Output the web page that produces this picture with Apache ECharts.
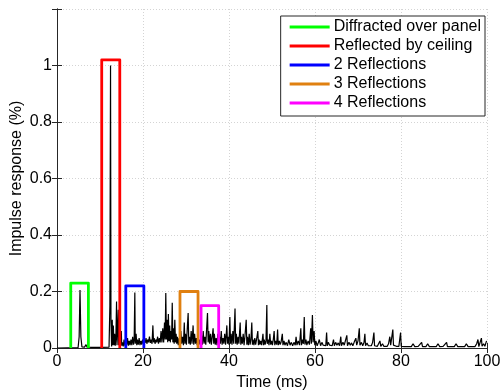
<!DOCTYPE html>
<html>
<head>
<meta charset="utf-8">
<script src="https://cdn.jsdelivr.net/npm/echarts@6/dist/echarts.min.js"></script>
<style>
  html, body { margin: 0; padding: 0; background: #fff; }
  #chart { width: 503px; height: 390px; }
</style>
</head>
<body>
<div id="chart"></div>
<script>
// measured impulse response, [time (ms), response (%)]
const impulse = [
  [0,0],[4.9,0.001],[5.15,0.04],[5.35,0.205],[5.55,0.04],[5.8,0.004],[6.4,0.003],[6.75,0.012],[7.0,0.003],[8,0.002],[10,0.002],[12.1,0.003],
  [12.3,0.15],[12.45,1.0],[12.55,0.1],[12.7,0.005],[12.85,0.1],[12.95,0.01],[13.1,0.08],[13.25,0.01],[13.4,0.05],[13.55,0.008],[13.7,0.04],[13.85,0.165],[13.95,0.01],[14.1,0.06],[14.25,0.135],[14.35,0.01],[14.5,0.04],[14.65,0.006],[14.8,0.025],[14.95,0.06],[15.05,0.008],
  [15.2,0.02],[15.4,0.006],[15.6,0.03],[15.8,0.008],[16.0,0.02],[16.2,0.01],[16.4,0.035],[16.6,0.008],[16.8,0.025],[17.0,0.01],[17.2,0.03],[17.4,0.01],[17.6,0.04],[17.8,0.012],[17.95,0.03],[18.1,0.196],[18.2,0.015],[18.4,0.05],[18.55,0.01],[18.7,0.03],[18.9,0.012],[19.1,0.035],[19.3,0.01],[19.5,0.025],[19.7,0.012],[19.9,0.03],
  [20.1,0.015],[20.3,0.03],[20.5,0.018],[20.7,0.035],[20.9,0.015],[21.1,0.03],[21.3,0.02],[21.5,0.04],[21.7,0.018],[21.9,0.03],[22.1,0.015],[22.3,0.08],[22.45,0.02],[22.6,0.035],[22.8,0.015],[23.0,0.03],[23.2,0.02],[23.4,0.04],[23.6,0.015],[23.8,0.035],[24.0,0.02],[24.2,0.06],[24.4,0.02],[24.6,0.07],[24.8,0.02],
  [25.0,0.09],[25.15,0.03],[25.3,0.195],[25.45,0.03],[25.6,0.1],[25.75,0.02],[25.9,0.12],[26.05,0.025],[26.2,0.08],[26.35,0.02],[26.5,0.06],[26.65,0.03],[26.8,0.16],[26.95,0.02],[27.1,0.07],[27.25,0.015],[27.4,0.1],[27.55,0.02],[27.7,0.05],[27.85,0.015],[28.0,0.04],[28.2,0.01],[28.4,0.035],[28.6,0.012],[28.8,0.06],[29.0,0.015],[29.2,0.04],[29.4,0.01],[29.6,0.09],[29.75,0.015],[29.9,0.05],
  [30.1,0.012],[30.3,0.07],[30.5,0.124],[30.65,0.015],[30.8,0.04],[31.0,0.012],[31.2,0.06],[31.4,0.015],[31.65,0.08],[31.8,0.012],[32.0,0.05],[32.2,0.015],[32.4,0.035],[32.6,0.01],[32.8,0.04],[33.0,0.012],[33.2,0.03],[33.4,0.01],[33.6,0.045],[33.8,0.012],[34.0,0.06],[34.2,0.015],[34.4,0.04],[34.6,0.012],[34.8,0.07],
  [35.0,0.124],[35.15,0.02],[35.3,0.06],[35.5,0.015],[35.7,0.05],[35.9,0.012],[36.1,0.04],[36.3,0.07],[36.45,0.015],[36.6,0.05],[36.8,0.012],[37.0,0.035],[37.2,0.01],[37.4,0.05],[37.6,0.012],[37.8,0.04],[38.0,0.015],[38.2,0.06],[38.4,0.012],[38.6,0.035],[38.8,0.015],[39.0,0.05],[39.2,0.012],[39.5,0.08],[39.65,0.015],[39.8,0.04],
  [40.0,0.012],[40.2,0.11],[40.35,0.015],[40.5,0.05],[40.7,0.012],[40.9,0.06],[41.1,0.015],[41.4,0.14],[41.55,0.015],[41.7,0.05],[41.9,0.012],[42.1,0.04],[42.3,0.015],[42.6,0.09],[42.75,0.012],[42.9,0.04],[43.1,0.015],[43.3,0.05],[43.5,0.01],[43.7,0.04],[44.0,0.1],[44.15,0.012],[44.3,0.04],[44.5,0.01],[44.7,0.05],[44.9,0.012],
  [45.1,0.03],[45.3,0.09],[45.45,0.012],[45.6,0.03],[45.8,0.01],[46.0,0.035],[46.2,0.012],[46.4,0.03],[46.7,0.06],[46.85,0.01],[47.0,0.03],[47.2,0.012],[47.4,0.025],[47.6,0.01],[47.9,0.05],[48.05,0.01],[48.2,0.03],[48.4,0.012],[48.6,0.025],[48.8,0.152],[48.9,0.015],[49.1,0.03],[49.3,0.01],[49.5,0.05],[49.7,0.012],[49.9,0.025],
  [50.1,0.01],[50.3,0.03],[50.5,0.06],[50.65,0.01],[50.9,0.025],[51.1,0.012],[51.3,0.065],[51.45,0.01],[51.7,0.025],[51.9,0.012],[52.1,0.02],[52.4,0.05],[52.55,0.01],[52.8,0.025],[53.0,0.01],[53.3,0.02],[53.6,0.008],[53.9,0.03],[54.2,0.01],[54.5,0.02],[54.8,0.008],
  [55.1,0.02],[55.4,0.01],[55.6,0.04],[55.8,0.01],[56.1,0.025],[56.4,0.01],[56.7,0.07],[56.85,0.01],[57.1,0.03],[57.3,0.015],[57.5,0.11],[57.65,0.012],[57.9,0.03],[58.1,0.01],[58.4,0.025],[58.7,0.012],[59.0,0.07],[59.15,0.015],[59.4,0.117],[59.55,0.02],[59.8,0.06],[59.95,0.01],
  [60.2,0.025],[60.5,0.008],[60.8,0.02],[61.0,0.03],[61.3,0.008],[61.6,0.02],[61.9,0.01],[62.2,0.015],[62.5,0.008],[62.7,0.055],[62.85,0.008],[63.1,0.02],[63.4,0.01],[63.7,0.015],[64.0,0.008],[64.3,0.03],[64.5,0.008],[64.8,0.02],
  [65.1,0.01],[65.4,0.018],[65.7,0.008],[66.0,0.04],[66.15,0.008],[66.5,0.02],[66.8,0.01],[67.1,0.015],[67.4,0.045],[67.55,0.008],[67.9,0.02],[68.2,0.01],[68.5,0.018],[68.8,0.008],[69.1,0.02],[69.5,0.035],[69.7,0.01],
  [70.0,0.025],[70.3,0.07],[70.45,0.01],[70.8,0.02],[71.1,0.008],[71.4,0.02],[71.6,0.05],[71.75,0.008],[72.1,0.018],[72.4,0.008],[72.8,0.015],[73.1,0.008],[73.4,0.02],[73.7,0.055],[73.85,0.008],[74.2,0.015],[74.5,0.006],[74.8,0.012],
  [75.1,0.025],[75.3,0.006],[75.7,0.015],[76.0,0.006],[76.4,0.012],[76.8,0.006],[77.1,0.015],[77.4,0.04],[77.6,0.01],[78.1,0.065],[78.25,0.01],[78.6,0.015],[78.9,0.006],[79.2,0.012],[79.5,0.006],[79.9,0.055],
  [80.05,0.006],[80.4,0.012],[80.8,0.005],[81.2,0.01],[81.6,0.005],[82.0,0.012],[82.4,0.005],[82.8,0.015],[83.2,0.005],[83.6,0.012],[84.0,0.006],[84.4,0.01],[84.8,0.02],[85.0,0.005],[85.4,0.012],[85.8,0.005],[86.2,0.015],[86.6,0.005],[87.0,0.012],[87.4,0.005],[87.8,0.01],[88.2,0.005],[88.6,0.015],[89.0,0.005],[89.4,0.012],[89.8,0.006],
  [90.2,0.01],[90.6,0.02],[90.8,0.005],[91.2,0.012],[91.6,0.005],[92.0,0.01],[92.4,0.005],[92.8,0.015],[93.2,0.005],[93.6,0.012],[94.0,0.005],[94.4,0.01],[94.8,0.005],[95.2,0.015],[95.6,0.005],[96.0,0.012],[96.4,0.005],[96.8,0.01],[97.2,0.005],[97.6,0.015],[97.9,0.03],[98.1,0.005],[98.4,0.012],[98.7,0.035],[98.85,0.006],[99.2,0.015],[99.5,0.006],[99.9,0.025]
];

// arrival windows drawn as open boxes
const boxNames  = ["Diffracted over panel", "Reflected by ceiling", "2 Reflections", "3 Reflections", "4 Reflections"];
const boxColors = ["#00ff00", "#ff0000", "#0000ff", "#e08010", "#ff00ff"];
const boxLeft   = [3.2, 10.4, 16.0, 28.6, 33.5];
const boxRight  = [7.3, 14.6, 20.2, 32.8, 37.6];
const boxTop    = [0.23, 1.02, 0.22, 0.20, 0.15];

const xTicks = [0, 20, 40, 60, 80, 100];
const yTicks = [0, 0.2, 0.4, 0.6, 0.8, 1];

const FONT = "Liberation Sans, Arial, Helvetica, sans-serif";
const gridLine = { show: true, lineStyle: { color: "#d4d4d4", type: [1, 2], width: 1 } };
const boxAxisLine = { show: true, lineStyle: { color: "#262626", width: 1 } };

const chart = echarts.init(document.getElementById("chart"));

const boxSeries = boxNames.map((name, i) => ({
  name,
  type: "line",
  data: [[boxLeft[i], 0], [boxLeft[i], boxTop[i]], [boxRight[i], boxTop[i]], [boxRight[i], 0]],
  symbol: "none",
  silent: true,
  animation: false,
  z: 3,
  itemStyle: { color: boxColors[i] },
  lineStyle: { color: boxColors[i], width: 2.8, join: "round" },
}));

chart.setOption({
  animation: false,
  textStyle: { fontFamily: FONT },
  grid: { left: 57, right: 16, top: 9, bottom: 42, outerBoundsMode: "none", containLabel: false },
  legend: {
    data: boxNames,
    orient: "vertical",
    right: 18,
    top: 16,
    icon: "rect",
    itemWidth: 40,
    itemHeight: 3,
    itemGap: 3,
    padding: [3, 4, 5, 9],
    backgroundColor: "#fff",
    borderColor: "#262626",
    borderWidth: 1,
    borderRadius: 0,
    textStyle: { fontFamily: FONT, fontSize: 16, color: "#000", padding: [0, 0, 0, -1] },
  },
  xAxis: [
    {
      type: "value", min: 0, max: 100, interval: 20,
      name: "Time (ms)", nameLocation: "middle", nameGap: 27, nameMoveOverlap: false,
      nameTextStyle: { fontFamily: FONT, fontSize: 16, color: "#000" },
      axisLine: boxAxisLine,
      axisTick: { show: true, inside: true, length: 5, lineStyle: { color: "#262626" } },
      axisLabel: { fontFamily: FONT, fontSize: 16, color: "#000", margin: 6,
        formatter: v => (xTicks.includes(v) ? String(v) : "") },
      splitLine: gridLine,
    },
    {
      type: "value", min: 0, max: 100, interval: 20, position: "top",
      axisLine: boxAxisLine,
      axisTick: { show: true, inside: true, length: 5, lineStyle: { color: "#262626" } },
      axisLabel: { show: false },
      splitLine: { show: false },
    },
  ],
  yAxis: [
    {
      type: "value", min: 0, max: 1.2, interval: 0.2,
      name: "Impulse response (%)", nameLocation: "middle", nameGap: 32, nameMoveOverlap: false,
      nameTextStyle: { fontFamily: FONT, fontSize: 16, color: "#000" },
      axisLine: boxAxisLine,
      axisTick: { show: true, inside: true, length: 5, lineStyle: { color: "#262626" } },
      axisLabel: { fontFamily: FONT, fontSize: 16, color: "#000", margin: 5,
        formatter: v => {
          const t = yTicks.find(k => Math.abs(k - v) < 1e-9);
          return t === undefined ? "" : String(t);
        } },
      splitLine: gridLine,
    },
    {
      type: "value", min: 0, max: 1.2, interval: 0.2, position: "right",
      axisLine: boxAxisLine,
      axisTick: { show: true, inside: true, length: 5, lineStyle: { color: "#262626" } },
      axisLabel: { show: false },
      splitLine: { show: false },
    },
  ],
  series: [
    {
      name: "impulse",
      type: "line",
      data: impulse,
      symbol: "none",
      silent: true,
      animation: false,
      z: 2,
      lineStyle: { color: "#000", width: 1.2 },
    },
    ...boxSeries,
  ],
});
</script>
</body>
</html>
